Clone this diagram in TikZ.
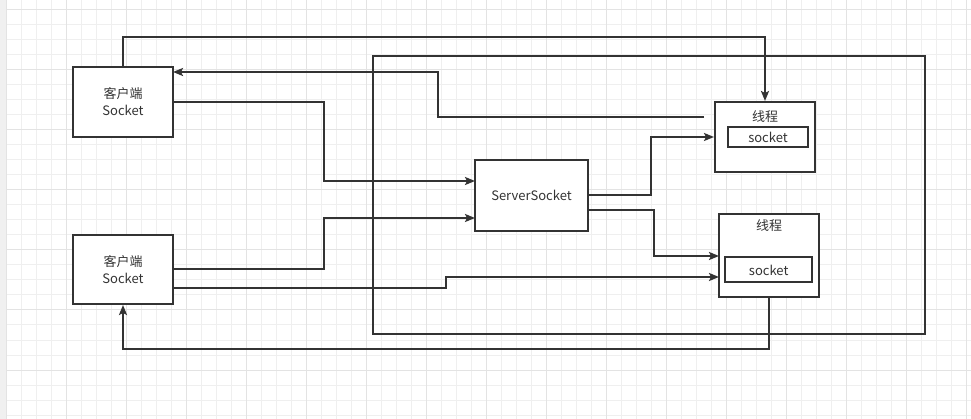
\documentclass[tikz,border=0pt]{standalone}
\usepackage{fontspec}
\setmainfont{Noto Sans CJK SC}
\usetikzlibrary{arrows.meta}
\definecolor{ink}{HTML}{333333}
\definecolor{gridminor}{HTML}{EFEFEF}
\definecolor{gridmajor}{HTML}{E3E3E3}
\definecolor{strip}{HTML}{F0F0F0}
\tikzset{
  box/.style={draw=ink, line width=2pt, fill=white, inner sep=0pt, align=center, text=ink,
    font=\fontsize{13}{17}\selectfont},
  lbl/.style={text=ink, inner sep=0pt, font=\fontsize{13}{17}\selectfont},
  conn/.style={draw=ink, line width=2pt},
  arr/.style={conn, -{Stealth[length=10pt,width=8pt,inset=2pt]}},
}
\begin{document}
\begin{tikzpicture}[x=1pt,y=-1pt]
\useasboundingbox (0,0) rectangle (971,419);
\fill[white] (0,0) rectangle (971,419);
% grid
\foreach \i in {0,...,64} {\draw[gridminor, line width=1pt] ({6.7+15*\i},0) -- ({6.7+15*\i},419);}
\foreach \i in {0,...,27} {\draw[gridminor, line width=1pt] (0,{10+15*\i}) -- (971,{10+15*\i});}
\foreach \i in {0,...,16} {\draw[gridmajor, line width=1pt] ({6.7+60*\i},0) -- ({6.7+60*\i},419);}
\foreach \i in {0,...,6} {\draw[gridmajor, line width=1pt] (0,{10+60*\i}) -- (971,{10+60*\i});}
\fill[strip] (0,0) rectangle (6,419);

% container
\draw[ink, line width=2pt] (373,56) rectangle (925,334);

% nodes
\node[box, minimum width=100pt, minimum height=70pt] (c1) at (123,102) {客户端\\Socket};
\node[box, minimum width=100pt, minimum height=69pt] (c2) at (123,269.5) {客户端\\Socket};
\node[box, minimum width=113pt, minimum height=71pt] (ss) at (531.5,195.5) {ServerSocket};
\node[box, minimum width=100pt, minimum height=70pt] (t1) at (765,137) {};
\node[lbl] (t1l) at (765,117) {线程};
\node[box, minimum width=80pt, minimum height=20pt] (s1) at (768,137) {socket};
\node[box, minimum width=100pt, minimum height=83pt] (t2) at (769,255.5) {};
\node[lbl] (t2l) at (769,226) {线程};
\node[box, minimum width=87pt, minimum height=25pt] (s2) at (768.7,270) {socket};

% helper coordinates
\coordinate (r2) at (704,117);
\coordinate (c1in) at (173,72);
\coordinate (ssin1) at (475,181);
\coordinate (ssin2) at (475,218);
\coordinate (c2out2) at (173,288);
\coordinate (t2in2) at (719,277);
\coordinate (ssout2) at (588,210);
\coordinate (t2in1) at (719,256);

% connectors
\draw[arr] (c1.north) -- (123,37) -| (t1.north);
\draw[arr] (r2) -| (438,72) -- (c1in);
\draw[arr] (c1.east) -| (324,181) -- (ssin1);
\draw[arr] (c2.east) -| (324,218) -- (ssin2);
\draw[arr] (c2out2) -| (446,277) -- (t2in2);
\draw[arr] (ss.east) -| (651,137) -- (t1.west);
\draw[arr] (ssout2) -| (654,256) -- (t2in1);
\draw[arr] (t2.south) -- (769,349) -| (c2.south);
\end{tikzpicture}
\end{document}
